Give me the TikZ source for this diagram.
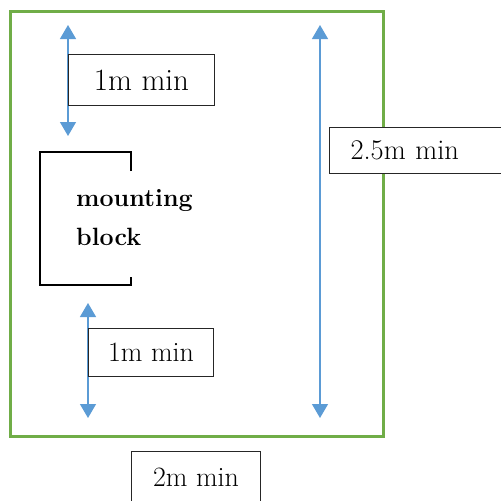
\documentclass[tikz,border=0pt]{standalone}
\usepackage{fontspec}
\usetikzlibrary{arrows.meta}
\definecolor{boxgreen}{HTML}{70AD47}
\definecolor{dimblue}{HTML}{5B9BD5}
\tikzset{
  lbl/.style={draw=black!85,line width=1pt,fill=white,inner sep=0pt,anchor=north west},
  dimline/.style={draw=dimblue,line width=1.3pt,
    {Triangle[width=16pt 0,length=14pt 0]}-{Triangle[width=16pt 0,length=14pt 0]}}
}
\begin{document}
\begin{tikzpicture}[x=1pt,y=-1pt]
\useasboundingbox(0,0)rectangle(501,501);
\clip(0,0)rectangle(501,501);
\draw[draw=boxgreen,line width=3pt](10,11)rectangle(383,436);
% mounting block
\draw[line width=2.5pt](131,171)--(131,152)--(40,152)--(40,285)--(131,285)--(131,277);
\node[anchor=base west,align=left,inner sep=0pt,font=\bfseries\fontsize{25}{39}\selectfont](block)at(76,245){mounting\\block};
% end points of the arrows
\coordinate(topA)at(68,25);
\coordinate(topB)at(68,136);
\coordinate(lowA)at(88,303);
\coordinate(lowB)at(88,418);
\coordinate(rightA)at(320,25);
\coordinate(rightB)at(320,418);
\draw[dimline](topA)--(topB);
\draw[dimline](lowA)--(lowB);
\draw[dimline](rightA)--(rightB);
% labels
\node[lbl,minimum width=146pt,minimum height=51pt,font=\fontsize{31}{34}\selectfont](top)at(68,54){1m min};
\node[lbl,minimum width=125pt,minimum height=48pt,font=\fontsize{28}{32}\selectfont](low)at(88,328){1m min};
\node[lbl,minimum height=46pt,text width=170pt,align=left,inner xsep=21pt,font=\fontsize{28.5}{32}\selectfont](height)at(329,127){2.5m min};
\node[lbl,minimum width=129pt,minimum height=52pt,font=\fontsize{28}{32}\selectfont](width)at(131,451){2m min};
\end{tikzpicture}
\end{document}
